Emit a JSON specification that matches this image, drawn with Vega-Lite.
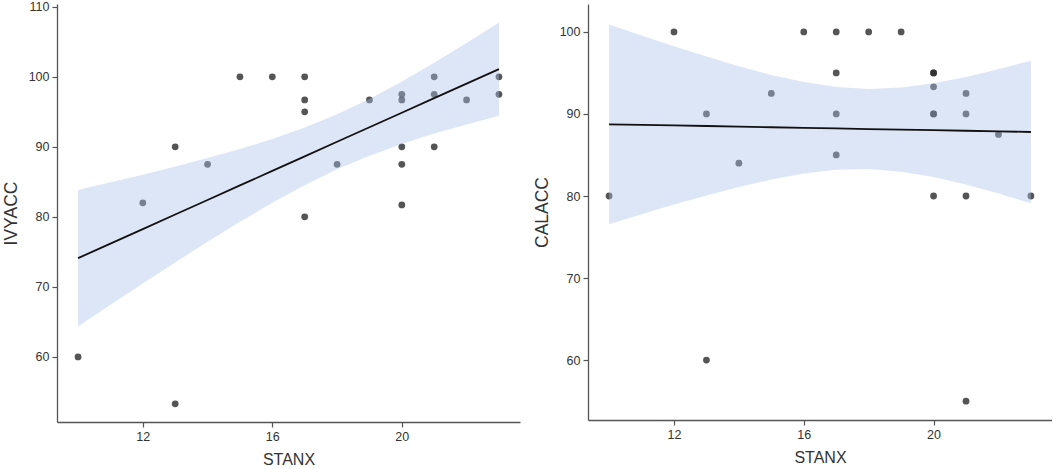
{
  "$schema": "https://vega.github.io/schema/vega-lite/v6.json",
  "autosize": {"type": "pad"},
  "padding": {"left": 2, "top": 0, "right": 0, "bottom": 0},
  "background": "white",
  "bounds": "flush",
  "spacing": 68,
  "config": {
    "view": {"stroke": null},
    "axis": {
      "grid": false,
      "domainColor": "#555555",
      "domainWidth": 1.3,
      "tickColor": "#555555",
      "tickWidth": 1.2,
      "tickSize": 5,
      "labelColor": "#333333",
      "labelFont": "Liberation Sans",
      "labelFontSize": 12.5,
      "labelPadding": 3,
      "titleFont": "Liberation Sans",
      "titleFontWeight": "normal",
      "titleColor": "#333333"
    },
    "axisX": {"titleFontSize": 16, "titlePadding": 9},
    "axisY": {"titleFontSize": 17.5, "titlePadding": 8}
  },
  "datasets": {
    "ivy": [
      {"STANX": 10, "IVYACC": 60}, {"STANX": 12, "IVYACC": 82}, {"STANX": 13, "IVYACC": 90},
      {"STANX": 13, "IVYACC": 53.3}, {"STANX": 14, "IVYACC": 87.5}, {"STANX": 15, "IVYACC": 100},
      {"STANX": 16, "IVYACC": 100}, {"STANX": 17, "IVYACC": 100}, {"STANX": 17, "IVYACC": 96.7},
      {"STANX": 17, "IVYACC": 95}, {"STANX": 17, "IVYACC": 80}, {"STANX": 18, "IVYACC": 87.5},
      {"STANX": 19, "IVYACC": 96.7}, {"STANX": 20, "IVYACC": 97.5}, {"STANX": 20, "IVYACC": 96.7},
      {"STANX": 20, "IVYACC": 90}, {"STANX": 20, "IVYACC": 87.5}, {"STANX": 20, "IVYACC": 81.7},
      {"STANX": 21, "IVYACC": 100}, {"STANX": 21, "IVYACC": 97.5}, {"STANX": 21, "IVYACC": 90},
      {"STANX": 22, "IVYACC": 96.7}, {"STANX": 23, "IVYACC": 100}, {"STANX": 23, "IVYACC": 97.5}
    ],
    "ivyfit": [
      {"STANX": 10, "fit": 74.1, "lo": 64.35, "hi": 83.85},
      {"STANX": 11, "fit": 76.18, "lo": 67.43, "hi": 84.93},
      {"STANX": 12, "fit": 78.25, "lo": 70.47, "hi": 86.03},
      {"STANX": 13, "fit": 80.33, "lo": 73.48, "hi": 87.18},
      {"STANX": 14, "fit": 82.41, "lo": 76.43, "hi": 88.39},
      {"STANX": 15, "fit": 84.49, "lo": 79.29, "hi": 89.69},
      {"STANX": 16, "fit": 86.56, "lo": 82.0, "hi": 91.12},
      {"STANX": 17, "fit": 88.64, "lo": 84.53, "hi": 92.75},
      {"STANX": 18, "fit": 90.72, "lo": 86.79, "hi": 94.65},
      {"STANX": 19, "fit": 92.79, "lo": 88.74, "hi": 96.84},
      {"STANX": 20, "fit": 94.87, "lo": 90.42, "hi": 99.32},
      {"STANX": 21, "fit": 96.95, "lo": 91.89, "hi": 102.01},
      {"STANX": 22, "fit": 99.02, "lo": 93.2, "hi": 104.84},
      {"STANX": 23, "fit": 101.1, "lo": 94.43, "hi": 107.77}
    ],
    "cal": [
      {"STANX": 10, "CALACC": 80}, {"STANX": 12, "CALACC": 100}, {"STANX": 13, "CALACC": 90},
      {"STANX": 13, "CALACC": 60}, {"STANX": 14, "CALACC": 84}, {"STANX": 15, "CALACC": 92.5},
      {"STANX": 16, "CALACC": 100}, {"STANX": 17, "CALACC": 100}, {"STANX": 17, "CALACC": 95},
      {"STANX": 17, "CALACC": 90}, {"STANX": 17, "CALACC": 85}, {"STANX": 18, "CALACC": 100},
      {"STANX": 19, "CALACC": 100}, {"STANX": 20, "CALACC": 95}, {"STANX": 20, "CALACC": 95},
      {"STANX": 20, "CALACC": 93.3}, {"STANX": 20, "CALACC": 90}, {"STANX": 20, "CALACC": 90},
      {"STANX": 20, "CALACC": 80}, {"STANX": 21, "CALACC": 92.5}, {"STANX": 21, "CALACC": 90},
      {"STANX": 21, "CALACC": 80}, {"STANX": 21, "CALACC": 55}, {"STANX": 22, "CALACC": 87.5},
      {"STANX": 23, "CALACC": 80}
    ],
    "calfit": [
      {"STANX": 10, "fit": 88.74, "lo": 76.57, "hi": 100.91},
      {"STANX": 11, "fit": 88.67, "lo": 77.78, "hi": 99.56},
      {"STANX": 12, "fit": 88.6, "lo": 78.95, "hi": 98.25},
      {"STANX": 13, "fit": 88.53, "lo": 80.07, "hi": 96.99},
      {"STANX": 14, "fit": 88.45, "lo": 81.1, "hi": 95.8},
      {"STANX": 15, "fit": 88.38, "lo": 82.01, "hi": 94.75},
      {"STANX": 16, "fit": 88.31, "lo": 82.74, "hi": 93.88},
      {"STANX": 17, "fit": 88.24, "lo": 83.2, "hi": 93.28},
      {"STANX": 18, "fit": 88.16, "lo": 83.28, "hi": 93.04},
      {"STANX": 19, "fit": 88.09, "lo": 82.97, "hi": 93.21},
      {"STANX": 20, "fit": 88.02, "lo": 82.31, "hi": 93.73},
      {"STANX": 21, "fit": 87.95, "lo": 81.4, "hi": 94.5},
      {"STANX": 22, "fit": 87.88, "lo": 80.31, "hi": 95.45},
      {"STANX": 23, "fit": 87.8, "lo": 79.11, "hi": 96.49}
    ]
  },
  "hconcat": [
    {
      "width": 463,
      "height": 418,
      "layer": [
        {
          "data": {"name": "ivy"},
          "mark": {"type": "point", "filled": true, "size": 46, "color": "#2b2b2b", "opacity": 0.8},
          "encoding": {
            "x": {"field": "STANX", "type": "quantitative", "scale": {"domain": [9.35, 23.65], "nice": false, "zero": false}, "axis": {"values": [12, 16, 20], "title": "STANX"}},
            "y": {"field": "IVYACC", "type": "quantitative", "scale": {"domain": [50.7, 110.4], "nice": false, "zero": false}, "axis": {"values": [60, 70, 80, 90, 100, 110], "title": "IVYACC"}}
          }
        },
        {
          "data": {"name": "ivyfit"},
          "mark": {"type": "area", "color": "#a9c1ec", "opacity": 0.4},
          "encoding": {
            "x": {"field": "STANX", "type": "quantitative"},
            "y": {"field": "lo", "type": "quantitative"},
            "y2": {"field": "hi"}
          }
        },
        {
          "data": {"name": "ivyfit"},
          "mark": {"type": "line", "color": "#111111", "strokeWidth": 1.8},
          "encoding": {
            "x": {"field": "STANX", "type": "quantitative"},
            "y": {"field": "fit", "type": "quantitative"}
          }
        }
      ]
    },
    {
      "width": 464,
      "height": 416,
      "layer": [
        {
          "data": {"name": "cal"},
          "mark": {"type": "point", "filled": true, "size": 46, "color": "#2b2b2b", "opacity": 0.8},
          "encoding": {
            "x": {"field": "STANX", "type": "quantitative", "scale": {"domain": [9.35, 23.65], "nice": false, "zero": false}, "axis": {"values": [12, 16, 20], "title": "STANX"}},
            "y": {"field": "CALACC", "type": "quantitative", "scale": {"domain": [52.7, 103.4], "nice": false, "zero": false}, "axis": {"values": [60, 70, 80, 90, 100], "title": "CALACC"}}
          }
        },
        {
          "data": {"name": "calfit"},
          "mark": {"type": "area", "color": "#a9c1ec", "opacity": 0.4},
          "encoding": {
            "x": {"field": "STANX", "type": "quantitative"},
            "y": {"field": "lo", "type": "quantitative"},
            "y2": {"field": "hi"}
          }
        },
        {
          "data": {"name": "calfit"},
          "mark": {"type": "line", "color": "#111111", "strokeWidth": 1.8},
          "encoding": {
            "x": {"field": "STANX", "type": "quantitative"},
            "y": {"field": "fit", "type": "quantitative"}
          }
        }
      ]
    }
  ]
}
